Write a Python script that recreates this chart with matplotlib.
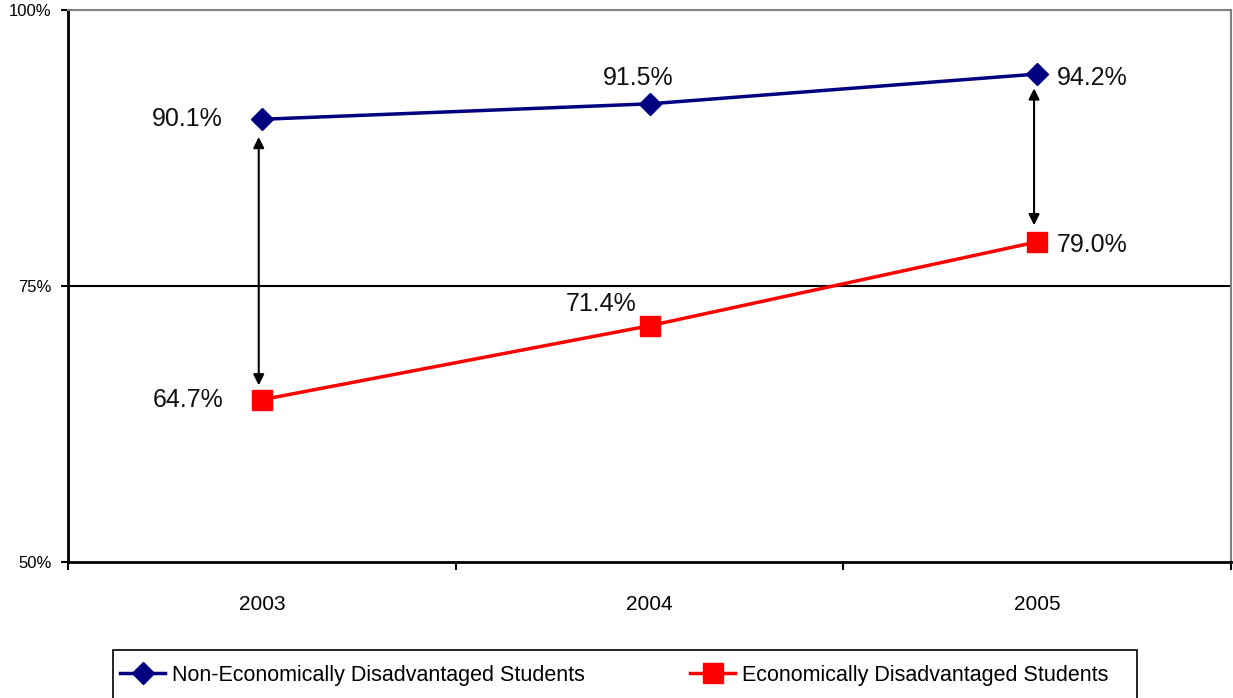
import matplotlib
matplotlib.use("Agg")
import matplotlib.pyplot as plt
from matplotlib import font_manager
from matplotlib.patches import Rectangle

years = ["2003", "2004", "2005"]
non_econ = [90.1, 91.5, 94.2]
econ = [64.7, 71.4, 79.0]
y_ticks = [50, 75, 100]

names = {f.name for f in font_manager.fontManager.ttflist}
narrow = "Liberation Sans Narrow" if "Liberation Sans Narrow" in names else "Liberation Sans"
plt.rcParams['font.family'] = [narrow, 'DejaVu Sans']

W, H = 1233, 698
fig = plt.figure(figsize=(W / 100, H / 100), dpi=100)
ax = fig.add_axes([68 / W, 1 - 562 / H, 1163 / W, 552 / H])

x = list(range(len(years)))
ax.plot(x, non_econ, color="#000080", lw=2.5, marker="D", ms=11,
        label="Non-Economically Disadvantaged Students", zorder=3)
ax.plot(x, econ, color="#FF0000", lw=2.5, marker="s", ms=15,
        label="Economically Disadvantaged Students", zorder=3)

# gap arrows
for xi, top, bot in [(0, 88.5, 66.0), (2, 92.9, 80.5)]:
    ax.annotate("", xy=(xi - 0.008, bot), xytext=(xi - 0.008, top),
                arrowprops=dict(arrowstyle="<|-|>", color="black", lw=1.5,
                                mutation_scale=16, shrinkA=0, shrinkB=0))

# value labels
lab = dict(fontsize=18, color="#111111")
ax.text(0 - 0.1, non_econ[0], f"{non_econ[0]:.1f}%", ha="right", va="center", **lab)
ax.text(0 - 0.1, econ[0], f"{econ[0]:.1f}%", ha="right", va="center", **lab)
ax.text(1 - 0.03, non_econ[1] + 2.3, f"{non_econ[1]:.1f}%", ha="center", va="center", **lab)
ax.text(1 - 0.126, econ[1] + 2.0, f"{econ[1]:.1f}%", ha="center", va="center", **lab)
ax.text(2 + 0.05, non_econ[2] - 0.4, f"{non_econ[2]:.1f}%", ha="left", va="center", **lab)
ax.text(2 + 0.05, econ[2] - 0.3, f"{econ[2]:.1f}%", ha="left", va="center", **lab)

ax.set_xlim(-0.5, 2.5)
ax.set_ylim(50, 100)
ax.set_yticks(y_ticks)
ax.set_yticklabels([f"{v}%" for v in y_ticks], fontsize=12)
ax.set_xticks([-0.5, 0.5, 1.5, 2.5])
ax.set_xticklabels([])
ax.set_xticks(x, minor=True)
ax.set_xticklabels(years, minor=True, fontsize=15)
ax.tick_params(axis="x", which="minor", length=0, pad=24)
ax.tick_params(axis="x", which="major", length=6, width=1.5, direction="out")
ax.tick_params(axis="y", length=5, width=1.5, direction="out", pad=7)

ax.axhline(75, color="black", lw=1.5, zorder=1)
for s in ["left", "bottom"]:
    ax.spines[s].set_linewidth(2)
    ax.spines[s].set_color("black")
for s in ["top", "right"]:
    ax.spines[s].set_linewidth(1.5)
    ax.spines[s].set_color("#808080")

# legend box runs off the bottom edge
fig.patches.append(Rectangle((113 / W, -10 / H), 1024 / W, 58 / H, transform=fig.transFigure,
                             fill=False, edgecolor="black", lw=1.2))
fig.legend(loc="center left", bbox_to_anchor=(120 / W, 1 - 675 / H), ncol=2,
           fontsize=15.5, frameon=False, handlelength=2.1, handletextpad=0.3,
           columnspacing=4.9, borderpad=0, borderaxespad=0)

fig.savefig("out.png", dpi=100)
